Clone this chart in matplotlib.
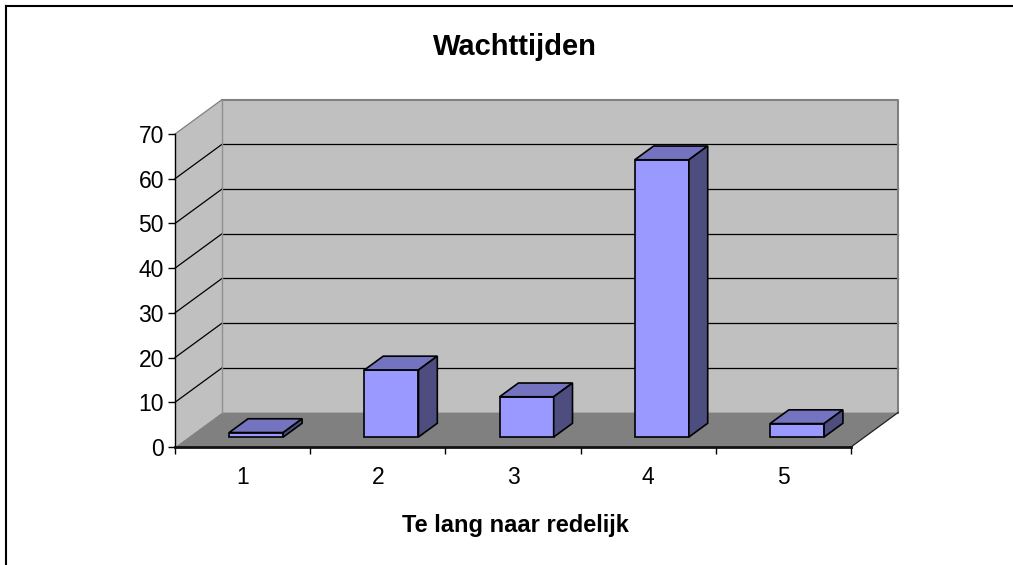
import numpy as np
import matplotlib.pyplot as plt
from matplotlib.patches import Polygon
from matplotlib.lines import Line2D

plt.rcParams['font.family'] = ['Liberation Sans', 'DejaVu Sans']

# data
categories = ['1', '2', '3', '4', '5']
values = [1, 15, 9, 62, 3]
title = 'Wachttijden'
xlabel = 'Te lang naar redelijk'
ymax = 70
yticks = np.arange(0, 71, 10)

# oblique "3d" look, offsets in data units
ddx = 0.348   # depth shift along x (categories)
ddy = 7.7     # depth shift along y (values)
f0, f1 = 0.29, 0.69   # bar front/back depth fraction
bw = 0.4             # bar width

wall = '#c0c0c0'
floor = '#808080'
front_c = '#9999ff'
top_c = '#7373c0'
side_c = '#4d4d80'

fig = plt.figure(figsize=(10.13, 5.65), dpi=100)
ax = fig.add_axes([175 / 1013, 1 - 447 / 565, 676 / 1013, 313 / 565])
n = len(categories)
x0, x1 = 0.5, n + 0.5
ax.set_xlim(x0, x1)
ax.set_ylim(0, ymax)
ax.patch.set_visible(False)


def poly(pts, fc, ec='none', lw=0.0, z=1):
    p = Polygon(pts, closed=True, facecolor=fc, edgecolor=ec, lw=lw,
                zorder=z, clip_on=False, joinstyle='miter')
    ax.add_patch(p)


# walls and floor
poly([(x0, 0), (x0 + ddx, ddy), (x0 + ddx, ymax + ddy), (x0, ymax)], wall, z=0.5)
poly([(x0 + ddx, ddy), (x1 + ddx, ddy), (x1 + ddx, ymax + ddy), (x0 + ddx, ymax + ddy)],
     wall, z=0.5)
poly([(x0, 0), (x1, 0), (x1 + ddx, ddy), (x0 + ddx, ddy)], floor, z=0.6)

# gridlines on back wall and side wall
for v in yticks[1:]:
    c = '#808080' if v == ymax else 'black'
    ax.plot([x0, x0 + ddx], [v, v + ddy], color=c, lw=0.9, zorder=0.8, clip_on=False)
    if v < ymax:
        ax.plot([x0 + ddx, x1 + ddx], [v + ddy, v + ddy], color='black', lw=0.9,
                zorder=0.8, clip_on=False)
# wall edges
ax.plot([x0 + ddx, x1 + ddx, x1 + ddx], [ymax + ddy, ymax + ddy, ddy], color='#808080',
        lw=1.5, zorder=0.8, clip_on=False)
ax.plot([x0 + ddx, x0 + ddx], [ddy, ymax + ddy], color='#909090', lw=1.0, zorder=0.8,
        clip_on=False)
ax.plot([x1, x1 + ddx], [0, ddy], color='#202020', lw=0.9, zorder=0.8, clip_on=False)

# bars
for i, v in enumerate(values):
    c = i + 1
    xl = c - bw / 2 + f0 * ddx
    xr = c + bw / 2 + f0 * ddx
    yb = f0 * ddy
    sx = (f1 - f0) * ddx
    sy = (f1 - f0) * ddy
    yt = yb + v
    poly([(xl, yb), (xr, yb), (xr, yt), (xl, yt)], front_c, 'black', 1.2, z=2)
    poly([(xl, yt), (xr, yt), (xr + sx, yt + sy), (xl + sx, yt + sy)], top_c, 'black', 1.2, z=2)
    poly([(xr, yb), (xr + sx, yb + sy), (xr + sx, yt + sy), (xr, yt)], side_c, 'black', 1.2, z=2)

# axes styling
for s in ['top', 'right']:
    ax.spines[s].set_visible(False)
ax.spines['left'].set_linewidth(1.0)
ax.spines['bottom'].set_linewidth(2.0)
ax.spines['bottom'].set_color('#111111')
ax.spines['left'].set_zorder(3)
ax.spines['bottom'].set_zorder(3)

ax.set_yticks(yticks)
ax.tick_params(axis='y', direction='out', length=5, width=1, pad=3, labelsize=16.5)
ax.set_xticks(np.arange(x0, x1 + 0.01, 1.0))
ax.set_xticklabels([])
ax.tick_params(axis='x', which='major', direction='out', length=5, width=1)
ax.set_xticks(np.arange(1, n + 1), minor=True)
ax.set_xticklabels(categories, minor=True)
ax.tick_params(axis='x', which='minor', length=0, pad=14, labelsize=16.5)

fig.text(0.5085, 1 - 55 / 565, title, ha='center', va='baseline', fontsize=21,
         fontweight='bold')
fig.text(0.5085, 1 - 532 / 565, xlabel, ha='center', va='baseline', fontsize=17,
         fontweight='bold')

# outer border (only top and left visible)
fig.add_artist(Line2D([6 / 1013, 6 / 1013], [0, 1 - 6 / 565], transform=fig.transFigure,
                      color='black', lw=1.5))
fig.add_artist(Line2D([6 / 1013, 1], [1 - 6 / 565, 1 - 6 / 565], transform=fig.transFigure,
                      color='black', lw=1.5))

fig.savefig('out.png', dpi=100)
